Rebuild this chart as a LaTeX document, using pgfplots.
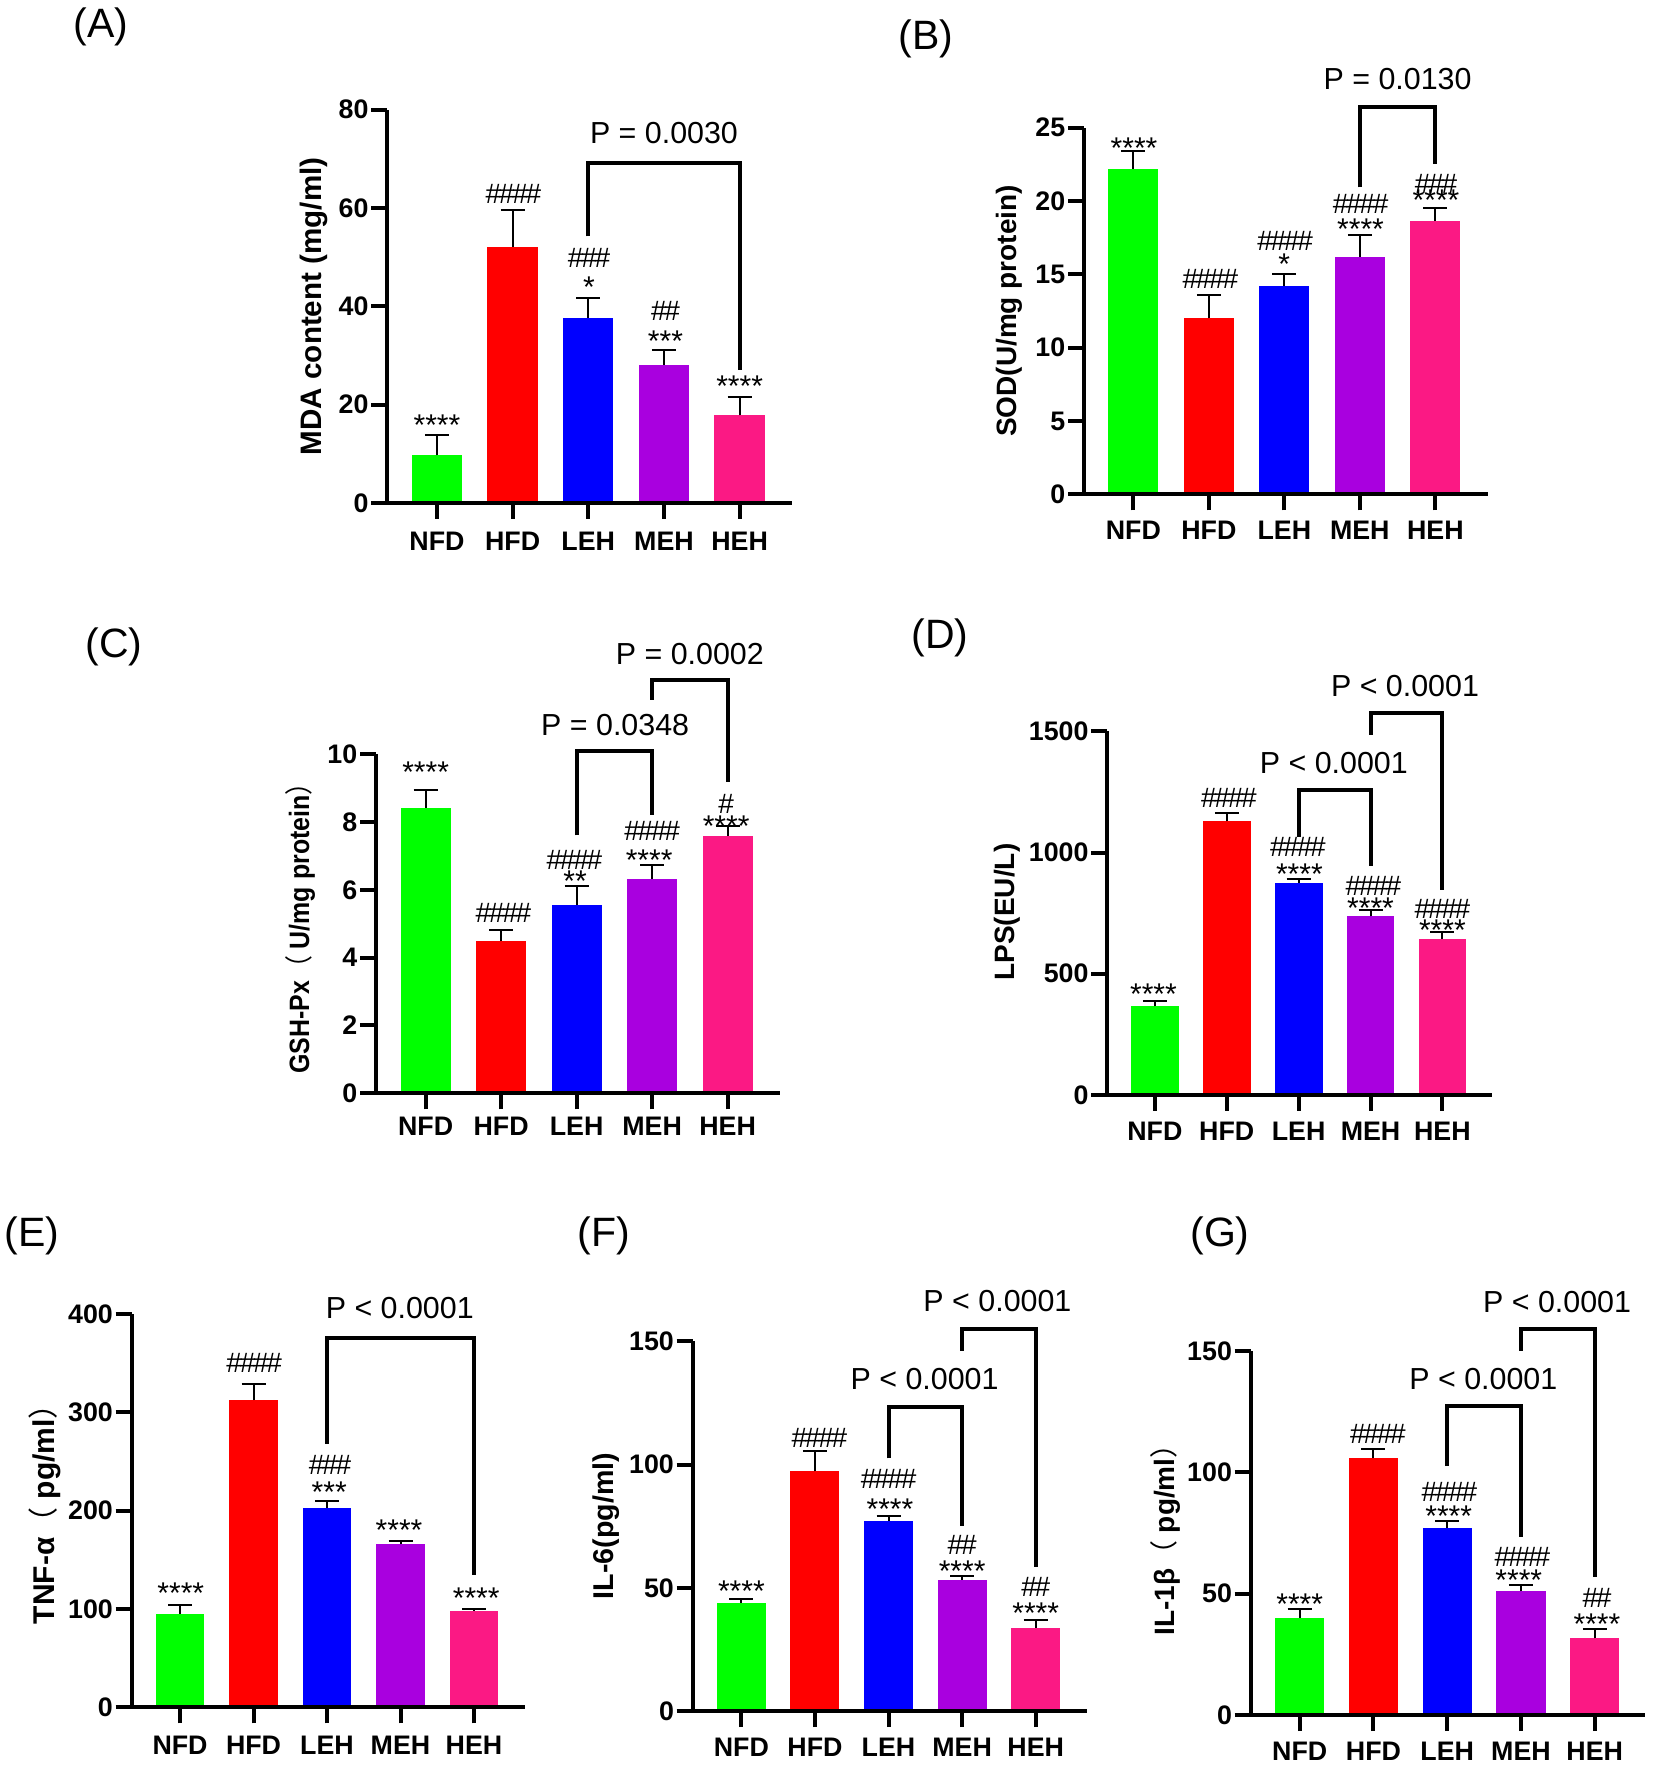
\documentclass[border=0pt]{standalone}
\usepackage{fontspec}
\setmainfont{Liberation Sans}
\newfontfamily\cjk{Noto Sans CJK SC}
\usepackage{pgfplots}
\pgfplotsset{compat=1.18}

\definecolor{cgreen}{HTML}{00FF00}
\definecolor{cred}{HTML}{FF0000}
\definecolor{cblue}{HTML}{0000FF}
\definecolor{cpurple}{HTML}{A900DF}
\definecolor{cpink}{HTML}{FB1984}

\newcommand\tickfont{\fontsize{13.4}{15}\selectfont\bfseries}
\newcommand\hone{\#}
\newcommand\htwo{\#\kern-.08em\#}
\newcommand\hthree{\#\kern-.08em\#\kern-.08em\#}
\newcommand\hfour{\#\kern-.08em\#\kern-.08em\#\kern-.08em\#}
\newcommand\fpl{{\mdseries\cjk （}}
\newcommand\fpr{{\mdseries\cjk ）}}

% one bar with its error bar: colour, x, mean, sd
\newcommand\gbar[4]{\addplot[ybar,bar shift=0pt,bar width=0.665,fill=#1,draw=none,
  error bars/.cd,y dir=plus,y explicit,
  error bar style={black,line width=1pt},
  error mark options={black,rotate=90,mark size=6pt,line width=1pt}]
  coordinates {(#2,#3) +- (0,#4)};}
\newcommand\bracket[1]{\addplot[black,line width=2pt,no markers] coordinates {#1};}
\newcommand\st[3]{\node[font=\fontsize{15}{16}\selectfont,inner sep=0pt,yshift=-2.2pt] at (axis cs:#1,#2) {#3};}
\newcommand\hs[3]{\node[font=\fontsize{14}{16}\selectfont,inner sep=0pt] at (axis cs:#1,#2) {#3};}
\newcommand\pv[3]{\node[font=\fontsize{15.2}{18}\selectfont,inner sep=0pt] at (axis cs:#1,#2) {#3};}
\newcommand\plabel[3]{\node[font=\fontsize{20.5}{22}\selectfont,inner sep=0pt] at (#1,#2) {#3};}

\pgfplotsset{panel/.style={
  scale only axis,clip=false,axis on top,
  anchor=south west,
  axis x line*=bottom,axis y line*=left,
  axis line style={line width=2.1pt,-},
  tick style={line width=2pt,black},
  major tick length=8pt,tick align=outside,
  minor tick num=0,
  xtick={0,1,2,3,4},xticklabels={NFD,HFD,LEH,MEH,HEH},
  ymin=0,
  /pgf/number format/assume math mode=true,
  /pgf/number format/1000 sep={},
  yticklabel style={font=\tickfont,inner sep=0pt,xshift=-1.2pt},
}}

\begin{document}
\begin{tikzpicture}
\path[use as bounding box] (0pt,0pt) rectangle (827pt,883pt);

% (A) MDA
\begin{axis}[panel,at={(193.65pt,631.5pt)},width=202.35pt,height=196.7pt,
  xmin=-0.656,xmax=4.692,ymax=80,ytick={0,20,40,60,80},
  xticklabel style={font=\tickfont,inner sep=0pt,yshift=-6.3pt},
  ylabel={MDA content (mg/ml)},
  ylabel style={at={(axis description cs:-0.182,0.5)},rotate=0,anchor=center,font=\fontsize{14.8}{16}\selectfont\bfseries}]
\gbar{cgreen}{0}{9.7}{4.2}
\gbar{cred}{1}{52.07}{7.6}
\gbar{cblue}{2}{37.7}{3.9}
\gbar{cpurple}{3}{28.07}{3.0}
\gbar{cpink}{4}{17.8}{3.8}
\bracket{(2,54.2) (2,69.2) (4,69.2) (4,27.1)}
\st{0}{16.7}{****}
\hs{1.01}{62.9}{\hfour}
\hs{2.01}{49.9}{\hthree}
\st{2.01}{44.8}{*}
\hs{3.02}{39.05}{\htwo}
\st{3.02}{33.8}{***}
\st{4}{24.6}{****}
\pv{3}{75.25}{P = 0.0030}
\end{axis}

% (B) SOD
\begin{axis}[panel,at={(542pt,635.85pt)},width=201.85pt,height=183.35pt,
  xmin=-0.653,xmax=4.694,ymax=25,ytick={0,5,10,15,20,25},
  xticklabel style={font=\tickfont,inner sep=0pt,yshift=-5.2pt},
  ylabel={SOD(U/mg protein)},
  ylabel style={at={(axis description cs:-0.185,0.5)},rotate=0,anchor=center,font=\fontsize{14}{16}\selectfont\bfseries}]
\gbar{cgreen}{0}{22.2}{1.2}
\gbar{cred}{1}{12}{1.6}
\gbar{cblue}{2}{14.2}{0.85}
\gbar{cpurple}{3}{16.2}{1.45}
\gbar{cpink}{4}{18.66}{0.84}
\bracket{(3,20.93) (3,26.39) (4,26.39) (4,22.52)}
\st{0.01}{23.9}{****}
\hs{1.02}{14.7}{\hfour}
\hs{2.01}{17.3}{\hfour}
\st{2}{16}{*}
\hs{3.01}{19.77}{\hfour}
\st{3.01}{18.34}{****}
\hs{4.01}{21.14}{\hthree}
\st{4.01}{20.36}{****}
\pv{3.5}{28.3}{P = 0.0130}
\end{axis}

% (C) GSH-Px
\begin{axis}[panel,at={(188pt,336.35pt)},width=202pt,height=169.5pt,
  xmin=-0.658,xmax=4.694,ymax=10,ytick={0,2,4,6,8,10},
  xticklabel style={font=\tickfont,inner sep=0pt,yshift=-3.6pt},
  ylabel={\scalebox{.89}[1]{GSH-Px\fpl\ U/mg protein\fpr}},
  ylabel style={at={(axis description cs:-0.188,0.505)},rotate=0,anchor=center,font=\fontsize{14}{16}\selectfont\bfseries}]
\gbar{cgreen}{0}{8.43}{0.52}
\gbar{cred}{1}{4.5}{0.33}
\gbar{cblue}{2}{5.55}{0.56}
\gbar{cpurple}{3}{6.32}{0.4}
\gbar{cpink}{4}{7.59}{0.28}
\bracket{(2,7.61) (2,10.09) (3,10.09) (3,8.22)}
\bracket{(3,11.61) (3,12.2) (4,12.2) (4,9.17)}
\st{0}{9.6}{****}
\hs{1.03}{5.32}{\hfour}
\hs{1.97}{6.89}{\hfour}
\st{1.98}{6.38}{**}
\hs{3}{7.74}{\hfour}
\st{2.96}{7.01}{****}
\hs{3.98}{8.53}{\hone}
\st{3.98}{8.01}{****}
\pv{2.51}{10.87}{P = 0.0348}
\pv{3.5}{12.97}{P = 0.0002}
\end{axis}

% (D) LPS
\begin{axis}[panel,at={(553.65pt,335.5pt)},width=192.2pt,height=181.83pt,
  xmin=-0.662,xmax=4.686,ymax=1500,ytick={0,500,1000,1500},
  xticklabel style={font=\tickfont,inner sep=0pt,yshift=-5.2pt},
  ylabel={LPS(EU/L)},
  ylabel style={at={(axis description cs:-0.26,0.503)},rotate=0,anchor=center,font=\fontsize{14}{16}\selectfont\bfseries}]
\gbar{cgreen}{0}{366}{23}
\gbar{cred}{1}{1129}{33}
\gbar{cblue}{2}{876}{14}
\gbar{cpurple}{3}{737}{28}
\gbar{cpink}{4}{643.5}{28.5}
\bracket{(2,1064) (2,1257) (3,1257) (3,943)}
\bracket{(3,1485) (3,1576) (4,1576) (4,847)}
\st{-0.02}{434.5}{****}
\hs{1.03}{1226}{\hfour}
\hs{1.99}{1021.6}{\hfour}
\st{2.01}{929.5}{****}
\hs{3.04}{861}{\hfour}
\st{3}{790.6}{****}
\hs{4}{767}{\hfour}
\st{4}{700}{****}
\pv{2.49}{1369.5}{P < 0.0001}
\pv{3.48}{1686}{P < 0.0001}
\end{axis}

% (E) TNF-a
\begin{axis}[panel,at={(65.85pt,29.35pt)},width=196.5pt,height=196.67pt,
  xmin=-0.658,xmax=4.69,ymax=400,ytick={0,100,200,300,400},
  xticklabel style={font=\tickfont,inner sep=0pt,yshift=-6.3pt},
  ylabel={TNF-α\fpl\ pg/ml\fpr},
  ylabel style={at={(axis description cs:-0.2205,0.51)},rotate=0,anchor=center,font=\fontsize{15}{16}\selectfont\bfseries}]
\gbar{cgreen}{0}{95.3}{8.7}
\gbar{cred}{1}{312.5}{16}
\gbar{cblue}{2}{203}{6.8}
\gbar{cpurple}{3}{166}{3.5}
\gbar{cpink}{4}{98}{2.3}
\bracket{(2,267.8) (2,375.6) (4,375.6) (4,134.6)}
\st{0.01}{121}{****}
\hs{1.01}{350.5}{\hfour}
\hs{2.04}{246.4}{\hthree}
\st{2.03}{223.7}{***}
\st{2.98}{184.4}{****}
\st{4.03}{115.3}{****}
\pv{2.99}{405.8}{P < 0.0001}
\end{axis}

% (F) IL-6
\begin{axis}[panel,at={(346.35pt,27.5pt)},width=197pt,height=184.83pt,
  xmin=-0.661,xmax=4.693,ymax=150,ytick={0,50,100,150},
  xticklabel style={font=\tickfont,inner sep=0pt,yshift=-5.2pt},
  ylabel={IL-6(pg/ml)},
  ylabel style={at={(axis description cs:-0.22,0.5)},rotate=0,anchor=center,font=\fontsize{14.3}{16}\selectfont\bfseries}]
\gbar{cgreen}{0}{43.8}{1.5}
\gbar{cred}{1}{97.25}{8.35}
\gbar{cblue}{2}{77.2}{2.1}
\gbar{cpurple}{3}{53.3}{1.6}
\gbar{cpink}{4}{33.8}{3.3}
\bracket{(2,102.5) (2,123.5) (3,123.5) (3,75.2)}
\bracket{(3,146.1) (3,154.9) (4,154.9) (4,58.3)}
\st{0}{50.45}{****}
\hs{1.06}{111}{\hfour}
\hs{2}{94.3}{\hfour}
\st{2.02}{83.6}{****}
\hs{3}{67.2}{\htwo}
\st{3}{58.6}{****}
\hs{4}{50.3}{\htwo}
\st{4}{41.3}{****}
\pv{2.49}{134.7}{P < 0.0001}
\pv{3.48}{166.5}{P < 0.0001}
\end{axis}

% (G) IL-1b
\begin{axis}[panel,at={(625.35pt,25.5pt)},width=197.17pt,height=182pt,
  xmin=-0.664,xmax=4.682,ymax=150,ytick={0,50,100,150},
  xticklabel style={font=\tickfont,inner sep=0pt,yshift=-5.2pt},
  ylabel={IL-1β\fpl\ pg/ml\fpr},
  ylabel style={at={(axis description cs:-0.217,0.5)},rotate=0,anchor=center,font=\fontsize{14}{16}\selectfont\bfseries}]
\gbar{cgreen}{0}{40}{3.7}
\gbar{cred}{1}{105.8}{3.7}
\gbar{cblue}{2}{77.2}{2.9}
\gbar{cpurple}{3}{51}{2.4}
\gbar{cpink}{4}{31.6}{3.7}
\bracket{(2,102.6) (2,127.3) (3,127.3) (3,73.2)}
\bracket{(3,150.1) (3,158.9) (4,158.9) (4,57)}
\st{0}{47.4}{****}
\hs{1.06}{116}{\hfour}
\hs{2.03}{91.9}{\hfour}
\st{2.02}{83.8}{****}
\hs{3.02}{65.2}{\hfour}
\st{2.97}{57.3}{****}
\hs{4.03}{48.1}{\htwo}
\st{4.03}{39.3}{****}
\pv{2.49}{138.6}{P < 0.0001}
\pv{3.49}{170.3}{P < 0.0001}
\end{axis}

\plabel{50.5pt}{869.4pt}{(A)}
\plabel{463pt}{863.4pt}{(B)}
\plabel{57pt}{559.4pt}{(C)}
\plabel{470pt}{563.9pt}{(D)}
\plabel{16pt}{264.9pt}{(E)}
\plabel{302pt}{264.9pt}{(F)}
\plabel{610pt}{264.9pt}{(G)}
\end{tikzpicture}
\end{document}
